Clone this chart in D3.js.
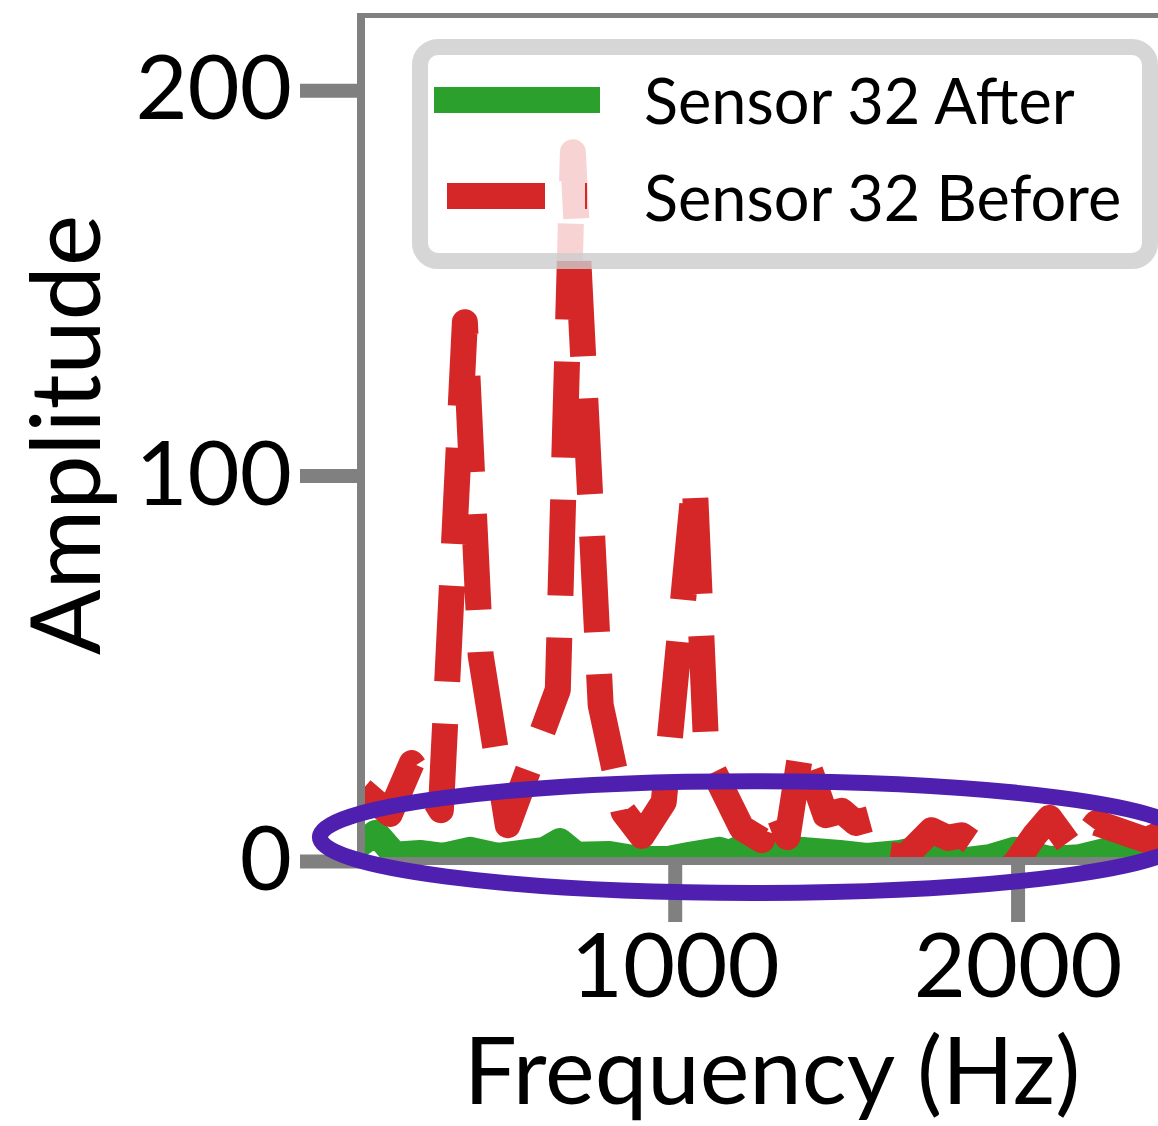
<!DOCTYPE html>
<html>
<head>
<meta charset="utf-8">
<script src="https://cdn.jsdelivr.net/npm/d3@7"></script>
<style>
  body { margin: 0; background: #fff; }
  svg text { font-family: Lato, "Open Sans", sans-serif; fill: #000; }
</style>
</head>
<body>
<svg id="chart" width="1158" height="1126"></svg>
<script>
// Sensor 32 spectrum, before and after
var beforeFreq = [88, 169, 233, 318, 388, 434, 513, 659, 703, 784, 851, 904, 968, 1058, 1093, 1195, 1254, 1292, 1329, 1370,
                  1440, 1487, 1528, 1569, 1627, 1671, 1749, 1796, 1837, 1883, 1956, 2000, 2050, 2093, 2166, 2230, 2376, 2429];
var beforeAmp  = [18.4, 12.2, 25.4, 13.2, 139.8, 53.4, 9.3, 44.4, 183.9, 40.5, 12.7, 6.5, 15.3, 98.8, 27, 8.6, 5.4, 14.5, 6.2, 29.8,
                  11.9, 13, 9.9, 10.9, 1.6, 1.0, 8.0, 6.0, 6.7, 3.9, 4.2, 0.3, 6.7, 11.2, 2.3, 9.9, 5.4, 7.5];

var afterFreq = [88, 128, 184, 257, 324, 402, 484, 569, 621, 665, 714, 810, 898, 980, 1044, 1131, 1160, 1204, 1277, 1364,
                 1481, 1560, 1656, 1700, 1773, 1837, 1918, 1991, 2093, 2181, 2268, 2341, 2414];
var afterAmp  = [4.7, 7.3, 1.6, 2.1, 1.3, 2.9, 1.3, 2.3, 2.9, 5.2, 1.6, 1.8, 0.5, 0.5, 1.6, 2.9, 2.1, 3.9, 2.9, 2.9,
                 2.1, 1.3, 2.1, 2.9, 1.3, 0.1, 1.0, 2.9, 0.5, 1.0, 2.9, 1.6, 0.5];

var xTicks = [1000, 2000];
var yTicks = [0, 100, 200];
var seriesNames = ["Sensor 32 After", "Sensor 32 Before"];

// circled low-amplitude band (centre and half-widths in data units)
var ringCenter = [1227, 6.2];
var ringHalf = [1262, 14.5];

var svg = d3.select('#chart');

var x = d3.scaleLinear().domain([85, 2500]).range([361, 1189]);
var y = d3.scaleLinear().domain([0, 219.5]).range([861, 15]);

svg.append('clipPath').attr('id', 'plotArea')
  .append('rect')
  .attr('x', x.range()[0]).attr('y', y.range()[1])
  .attr('width', x.range()[1] - x.range()[0])
  .attr('height', y.range()[0] - y.range()[1]);

var line = d3.line().x(function(d) { return x(d[0]); }).y(function(d) { return y(d[1]); });

var plot = svg.append('g').attr('clip-path', 'url(#plotArea)');

plot.append('path')
  .datum(d3.zip(afterFreq, afterAmp))
  .attr('d', line)
  .attr('fill', 'none')
  .attr('stroke', '#2ca02c')
  .attr('stroke-width', 26)
  .attr('stroke-linejoin', 'round')
  .attr('stroke-linecap', 'square');

plot.append('path')
  .datum(d3.zip(beforeFreq, beforeAmp))
  .attr('d', line)
  .attr('fill', 'none')
  .attr('stroke', '#d62728')
  .attr('stroke-width', 26)
  .attr('stroke-dasharray', '96 42')
  .attr('stroke-linejoin', 'round')
  .attr('stroke-linecap', 'butt');

// axes (ticks only, spines drawn separately)
var yAxis = svg.append('g')
  .attr('transform', 'translate(' + x.range()[0] + ',0)')
  .call(d3.axisLeft(y).tickValues(yTicks).tickFormat(d3.format('d')).tickSize(61).tickPadding(8));
yAxis.select('.domain').remove();

var xAxis = svg.append('g')
  .attr('transform', 'translate(0,' + y.range()[0] + ')')
  .call(d3.axisBottom(x).tickValues(xTicks).tickFormat(d3.format('d')).tickSize(61).tickPadding(11));
xAxis.select('.domain').remove();

svg.selectAll('.tick line').attr('stroke', '#808080').attr('stroke-width', 14);
svg.selectAll('.tick text').attr('font-size', 90).style('font-size', '90px');

// spines
var spine = svg.append('g').attr('stroke', '#808080').attr('fill', 'none');
spine.append('line').attr('x1', 361).attr('x2', 361).attr('y1', 13).attr('y2', 865).attr('stroke-width', 8);
spine.append('line').attr('x1', 357).attr('x2', 1200).attr('y1', 861).attr('y2', 861).attr('stroke-width', 8);
spine.append('line').attr('x1', 357).attr('x2', 1200).attr('y1', 15.5).attr('y2', 15.5).attr('stroke-width', 5);

// legend
var legend = svg.append('g');
legend.append('rect')
  .attr('x', 420).attr('y', 47).attr('width', 730).attr('height', 214)
  .attr('rx', 18).attr('ry', 18)
  .attr('fill', '#fff').attr('fill-opacity', 0.8)
  .attr('stroke', '#cccccc').attr('stroke-opacity', 0.8).attr('stroke-width', 16);

legend.append('line')
  .attr('x1', 447).attr('x2', 587).attr('y1', 100).attr('y2', 100)
  .attr('stroke', '#2ca02c').attr('stroke-width', 26).attr('stroke-linecap', 'square');
legend.append('line')
  .attr('x1', 447).attr('x2', 587).attr('y1', 196).attr('y2', 196)
  .attr('stroke', '#d62728').attr('stroke-width', 26).attr('stroke-dasharray', '98 40');

legend.selectAll('text.lab')
  .data(seriesNames)
  .enter().append('text')
  .attr('class', 'lab')
  .attr('x', 644)
  .attr('y', function(d, i) { return 124 + i * 97; })
  .style('font-size', '63px')
  .text(function(d) { return d; });

// axis titles
svg.append('text')
  .attr('x', 772).attr('y', 1104)
  .attr('text-anchor', 'middle')
  .style('font-size', '94px')
  .text('Frequency (Hz)');

svg.append('text')
  .attr('transform', 'translate(100,435) rotate(-90)')
  .attr('text-anchor', 'middle')
  .style('font-size', '97px')
  .text('Amplitude');

// annotation ring
svg.append('ellipse')
  .attr('cx', x(ringCenter[0]))
  .attr('cy', y(ringCenter[1]))
  .attr('rx', x(ringCenter[0] + ringHalf[0]) - x(ringCenter[0]))
  .attr('ry', y(0) - y(ringHalf[1]))
  .attr('fill', 'none')
  .attr('stroke', '#4f20b0')
  .attr('stroke-width', 16);
</script>
</body>
</html>
